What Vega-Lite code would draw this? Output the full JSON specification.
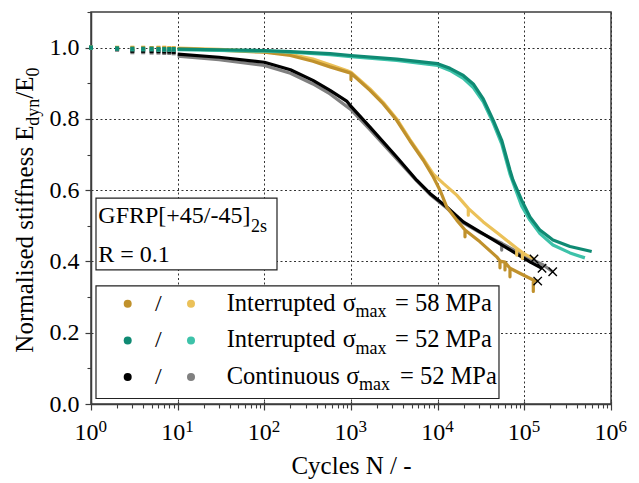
{
  "$schema": "https://vega.github.io/schema/vega-lite/v6.json",
  "width": 520,
  "height": 392,
  "autosize": {"type": "none"},
  "padding": {"left": 91, "top": 12, "right": 28, "bottom": 79},
  "background": "white",
  "config": {
    "font": "Liberation Serif",
    "view": {"stroke": "#3c3c3c", "strokeWidth": 1.5},
    "axis": {
      "labelFont": "Liberation Serif",
      "titleFont": "Liberation Serif",
      "labelColor": "#000",
      "titleColor": "#000",
      "titleFontWeight": "normal",
      "domainColor": "#3c3c3c",
      "tickColor": "#3c3c3c",
      "gridColor": "#333",
      "gridDash": [2, 2.5],
      "gridOpacity": 1,
      "gridWidth": 1
    }
  },
  "datasets": {
    "curves": [
      {"s": "C52b", "N": 10, "E": 0.976}, {"s": "C52b", "N": 30, "E": 0.966}, {"s": "C52b", "N": 100, "E": 0.95}, {"s": "C52b", "N": 200, "E": 0.928},
      {"s": "C52b", "N": 364, "E": 0.898}, {"s": "C52b", "N": 573, "E": 0.87}, {"s": "C52b", "N": 1000, "E": 0.826}, {"s": "C52b", "N": 1656, "E": 0.77},
      {"s": "C52b", "N": 3367, "E": 0.688}, {"s": "C52b", "N": 5730, "E": 0.626}, {"s": "C52b", "N": 8150, "E": 0.588}, {"s": "C52b", "N": 12710, "E": 0.55},
      {"s": "C52b", "N": 19760, "E": 0.508}, {"s": "C52b", "N": 30790, "E": 0.481}, {"s": "C52b", "N": 54800, "E": 0.451}, {"s": "C52b", "N": 54800, "E": 0.432},
      {"s": "C52b", "N": 54800, "E": 0.451}, {"s": "C52b", "N": 97200, "E": 0.418}, {"s": "C52b", "N": 165600, "E": 0.39}, {"s": "C52b", "N": 212500, "E": 0.371},

      {"s": "C52a", "N": 10, "E": 0.982}, {"s": "C52a", "N": 30, "E": 0.973}, {"s": "C52a", "N": 100, "E": 0.959}, {"s": "C52a", "N": 200, "E": 0.938},
      {"s": "C52a", "N": 364, "E": 0.908}, {"s": "C52a", "N": 573, "E": 0.88}, {"s": "C52a", "N": 891, "E": 0.85}, {"s": "C52a", "N": 1000, "E": 0.835},
      {"s": "C52a", "N": 1656, "E": 0.777}, {"s": "C52a", "N": 3367, "E": 0.693}, {"s": "C52a", "N": 5730, "E": 0.628}, {"s": "C52a", "N": 8150, "E": 0.591},
      {"s": "C52a", "N": 12710, "E": 0.553}, {"s": "C52a", "N": 19760, "E": 0.511}, {"s": "C52a", "N": 30790, "E": 0.483}, {"s": "C52a", "N": 47970, "E": 0.455},
      {"s": "C52a", "N": 74600, "E": 0.427}, {"s": "C52a", "N": 116100, "E": 0.399}, {"s": "C52a", "N": 160000, "E": 0.381},

      {"s": "I58b", "N": 10, "E": 0.999}, {"s": "I58b", "N": 30, "E": 0.995}, {"s": "I58b", "N": 100, "E": 0.989}, {"s": "I58b", "N": 200, "E": 0.981},
      {"s": "I58b", "N": 364, "E": 0.968}, {"s": "I58b", "N": 573, "E": 0.952}, {"s": "I58b", "N": 891, "E": 0.936}, {"s": "I58b", "N": 1000, "E": 0.931},
      {"s": "I58b", "N": 1656, "E": 0.884}, {"s": "I58b", "N": 2360, "E": 0.846}, {"s": "I58b", "N": 3367, "E": 0.8}, {"s": "I58b", "N": 4795, "E": 0.742},
      {"s": "I58b", "N": 6830, "E": 0.688}, {"s": "I58b", "N": 8910, "E": 0.645}, {"s": "I58b", "N": 11610, "E": 0.619}, {"s": "I58b", "N": 16590, "E": 0.586},
      {"s": "I58b", "N": 22560, "E": 0.549}, {"s": "I58b", "N": 22560, "E": 0.53}, {"s": "I58b", "N": 22560, "E": 0.549}, {"s": "I58b", "N": 33570, "E": 0.511},
      {"s": "I58b", "N": 52370, "E": 0.474}, {"s": "I58b", "N": 81660, "E": 0.437}, {"s": "I58b", "N": 81660, "E": 0.418}, {"s": "I58b", "N": 81660, "E": 0.437},
      {"s": "I58b", "N": 95000, "E": 0.425}, {"s": "I58b", "N": 95000, "E": 0.408}, {"s": "I58b", "N": 95000, "E": 0.425}, {"s": "I58b", "N": 106400, "E": 0.418},
      {"s": "I58b", "N": 129200, "E": 0.407},

      {"s": "I58a", "N": 10, "E": 0.997}, {"s": "I58a", "N": 30, "E": 0.993}, {"s": "I58a", "N": 100, "E": 0.987}, {"s": "I58a", "N": 200, "E": 0.978},
      {"s": "I58a", "N": 364, "E": 0.962}, {"s": "I58a", "N": 573, "E": 0.946}, {"s": "I58a", "N": 891, "E": 0.932}, {"s": "I58a", "N": 1000, "E": 0.928},
      {"s": "I58a", "N": 1000, "E": 0.91}, {"s": "I58a", "N": 1000, "E": 0.928}, {"s": "I58a", "N": 1656, "E": 0.88}, {"s": "I58a", "N": 2360, "E": 0.842},
      {"s": "I58a", "N": 3367, "E": 0.796}, {"s": "I58a", "N": 4795, "E": 0.738}, {"s": "I58a", "N": 6830, "E": 0.684}, {"s": "I58a", "N": 8910, "E": 0.637},
      {"s": "I58a", "N": 10640, "E": 0.6}, {"s": "I58a", "N": 12710, "E": 0.553}, {"s": "I58a", "N": 16590, "E": 0.516}, {"s": "I58a", "N": 20670, "E": 0.488},
      {"s": "I58a", "N": 20670, "E": 0.469}, {"s": "I58a", "N": 20670, "E": 0.488}, {"s": "I58a", "N": 30790, "E": 0.455}, {"s": "I58a", "N": 47970, "E": 0.413},
      {"s": "I58a", "N": 52370, "E": 0.401}, {"s": "I58a", "N": 52370, "E": 0.382}, {"s": "I58a", "N": 52370, "E": 0.401}, {"s": "I58a", "N": 59800, "E": 0.398},
      {"s": "I58a", "N": 59800, "E": 0.376}, {"s": "I58a", "N": 59800, "E": 0.398}, {"s": "I58a", "N": 68300, "E": 0.381}, {"s": "I58a", "N": 68300, "E": 0.357},
      {"s": "I58a", "N": 68300, "E": 0.381}, {"s": "I58a", "N": 97200, "E": 0.362}, {"s": "I58a", "N": 126900, "E": 0.348}, {"s": "I58a", "N": 126900, "E": 0.316},
      {"s": "I58a", "N": 126900, "E": 0.348}, {"s": "I58a", "N": 142600, "E": 0.345},

      {"s": "I52b", "N": 10, "E": 0.994}, {"s": "I52b", "N": 30, "E": 0.992}, {"s": "I52b", "N": 100, "E": 0.99}, {"s": "I52b", "N": 200, "E": 0.987},
      {"s": "I52b", "N": 573, "E": 0.98}, {"s": "I52b", "N": 1000, "E": 0.975}, {"s": "I52b", "N": 3367, "E": 0.964}, {"s": "I52b", "N": 10000, "E": 0.95},
      {"s": "I52b", "N": 13870, "E": 0.936}, {"s": "I52b", "N": 19760, "E": 0.914}, {"s": "I52b", "N": 25760, "E": 0.888}, {"s": "I52b", "N": 33570, "E": 0.848},
      {"s": "I52b", "N": 43840, "E": 0.788}, {"s": "I52b", "N": 54800, "E": 0.73}, {"s": "I52b", "N": 68300, "E": 0.645}, {"s": "I52b", "N": 93100, "E": 0.556},
      {"s": "I52b", "N": 116100, "E": 0.516}, {"s": "I52b", "N": 151400, "E": 0.478}, {"s": "I52b", "N": 214000, "E": 0.446}, {"s": "I52b", "N": 336500, "E": 0.424},
      {"s": "I52b", "N": 500000, "E": 0.41},

      {"s": "I52a", "N": 10, "E": 0.996}, {"s": "I52a", "N": 30, "E": 0.994}, {"s": "I52a", "N": 100, "E": 0.992}, {"s": "I52a", "N": 200, "E": 0.989},
      {"s": "I52a", "N": 573, "E": 0.983}, {"s": "I52a", "N": 1000, "E": 0.978}, {"s": "I52a", "N": 3367, "E": 0.968}, {"s": "I52a", "N": 10000, "E": 0.955},
      {"s": "I52a", "N": 13870, "E": 0.942}, {"s": "I52a", "N": 19760, "E": 0.922}, {"s": "I52a", "N": 25760, "E": 0.898}, {"s": "I52a", "N": 33570, "E": 0.856},
      {"s": "I52a", "N": 43840, "E": 0.796}, {"s": "I52a", "N": 54800, "E": 0.74}, {"s": "I52a", "N": 68300, "E": 0.656}, {"s": "I52a", "N": 74000, "E": 0.628},
      {"s": "I52a", "N": 93100, "E": 0.572}, {"s": "I52a", "N": 116100, "E": 0.525}, {"s": "I52a", "N": 151400, "E": 0.488}, {"s": "I52a", "N": 214000, "E": 0.46},
      {"s": "I52a", "N": 336500, "E": 0.442}, {"s": "I52a", "N": 598400, "E": 0.428}
    ],
    "early": [
      {"s": "C52b", "N": 1, "E": 1.0}, {"s": "C52b", "N": 2, "E": 0.994}, {"s": "C52b", "N": 3, "E": 0.987}, {"s": "C52b", "N": 4, "E": 0.987}, {"s": "C52b", "N": 5, "E": 0.986},
      {"s": "C52b", "N": 6, "E": 0.986}, {"s": "C52b", "N": 7, "E": 0.985}, {"s": "C52b", "N": 8, "E": 0.985}, {"s": "C52b", "N": 9, "E": 0.984},
      {"s": "C52a", "N": 1, "E": 1.0}, {"s": "C52a", "N": 2, "E": 0.996}, {"s": "C52a", "N": 3, "E": 0.991}, {"s": "C52a", "N": 4, "E": 0.991}, {"s": "C52a", "N": 5, "E": 0.99},
      {"s": "C52a", "N": 6, "E": 0.99}, {"s": "C52a", "N": 7, "E": 0.989}, {"s": "C52a", "N": 8, "E": 0.989}, {"s": "C52a", "N": 9, "E": 0.988},
      {"s": "I58b", "N": 1, "E": 1.0}, {"s": "I58b", "N": 2, "E": 1.0}, {"s": "I58b", "N": 3, "E": 1.0}, {"s": "I58b", "N": 4, "E": 1.0}, {"s": "I58b", "N": 5, "E": 0.999},
      {"s": "I58b", "N": 6, "E": 1.0}, {"s": "I58b", "N": 7, "E": 1.0}, {"s": "I58b", "N": 8, "E": 0.999}, {"s": "I58b", "N": 9, "E": 0.999},
      {"s": "I58a", "N": 1, "E": 1.0}, {"s": "I58a", "N": 2, "E": 0.999}, {"s": "I58a", "N": 3, "E": 0.998}, {"s": "I58a", "N": 4, "E": 0.998}, {"s": "I58a", "N": 5, "E": 0.998},
      {"s": "I58a", "N": 6, "E": 0.998}, {"s": "I58a", "N": 7, "E": 0.998}, {"s": "I58a", "N": 8, "E": 0.997}, {"s": "I58a", "N": 9, "E": 0.997},
      {"s": "I52b", "N": 1, "E": 1.0}, {"s": "I52b", "N": 2, "E": 0.997}, {"s": "I52b", "N": 3, "E": 0.995}, {"s": "I52b", "N": 4, "E": 0.995}, {"s": "I52b", "N": 5, "E": 0.995},
      {"s": "I52b", "N": 6, "E": 0.994}, {"s": "I52b", "N": 7, "E": 0.994}, {"s": "I52b", "N": 8, "E": 0.994}, {"s": "I52b", "N": 9, "E": 0.994},
      {"s": "I52a", "N": 1, "E": 1.0}, {"s": "I52a", "N": 2, "E": 0.998}, {"s": "I52a", "N": 3, "E": 0.997}, {"s": "I52a", "N": 4, "E": 0.997}, {"s": "I52a", "N": 5, "E": 0.997},
      {"s": "I52a", "N": 6, "E": 0.996}, {"s": "I52a", "N": 7, "E": 0.996}, {"s": "I52a", "N": 8, "E": 0.996}, {"s": "I52a", "N": 9, "E": 0.996}
    ],
    "failures": [
      {"s": "I58b", "N": 129200, "E": 0.407},
      {"s": "C52a", "N": 160000, "E": 0.381},
      {"s": "C52b", "N": 212500, "E": 0.371},
      {"s": "I58a", "N": 142600, "E": 0.345}
    ],
    "decades": [
      {"N": 1}, {"N": 10}, {"N": 100}, {"N": 1000}, {"N": 10000}, {"N": 100000}, {"N": 1000000}
    ],
    "note": [{"id": 1}]
  },
  "layer": [
    {
      "data": {"name": "curves"},
      "mark": {"type": "line", "strokeWidth": 3.2, "strokeJoin": "round"},
      "encoding": {
        "x": {
          "field": "N", "type": "quantitative",
          "scale": {"type": "log", "domain": [1, 1000000], "nice": false},
          "axis": {
            "orient": "bottom",
            "values": [1, 10, 100, 1000, 10000, 100000, 1000000],
            "labelExpr": "'10'",
            "labelFontSize": 24,
            "labelOffset": -5,
            "labelPadding": 29.5,
            "labelBaseline": "alphabetic",
            "labelFlush": false,
            "labelOverlap": false,
            "tickSize": 6,
            "tickWidth": 1.2,
            "domainWidth": 1.5,
            "grid": true,
            "title": "Cycles N / -",
            "titleFontSize": 25,
            "titleY": 69.5,
            "titleBaseline": "alphabetic"
          }
        },
        "y": {
          "field": "E", "type": "quantitative",
          "scale": {"domain": [0, 1.1], "nice": false, "zero": false},
          "axis": {
            "orient": "left",
            "values": [0, 0.2, 0.4, 0.6, 0.8, 1.0],
            "format": ".1f",
            "labelFontSize": 24,
            "labelPadding": 6,
            "tickSize": 6,
            "tickWidth": 1.2,
            "domainWidth": 1.5,
            "grid": true,
            "title": null
          }
        },
        "color": {
          "field": "s", "type": "nominal",
          "scale": {
            "domain": ["I58a", "I58b", "I52a", "I52b", "C52a", "C52b"],
            "range": ["#C0912C", "#EBC159", "#0F8A73", "#3DC2A9", "#000000", "#808080"]
          },
          "legend": null
        }
      }
    },
    {
      "data": {"name": "early"},
      "mark": {"type": "square", "size": 16, "opacity": 1},
      "encoding": {
        "x": {"field": "N", "type": "quantitative", "axis": null},
        "y": {"field": "E", "type": "quantitative", "axis": null},
        "color": {"field": "s", "type": "nominal", "legend": null}
      }
    },
    {
      "data": {"name": "failures"},
      "mark": {"type": "point", "shape": "M-1,-1L1,1M-1,1L1,-1", "filled": false, "stroke": "#000", "strokeWidth": 1.4, "size": 70, "opacity": 1},
      "encoding": {
        "x": {"field": "N", "type": "quantitative", "axis": null},
        "y": {"field": "E", "type": "quantitative", "axis": null}
      }
    },
    {
      "data": {"name": "note"},
      "mark": {"type": "rect", "fill": "white", "stroke": "#222", "strokeWidth": 1.2},
      "encoding": {
        "x": {"datum": 1.142, "type": "quantitative", "axis": null},
        "x2": {"datum": 140},
        "y": {"datum": 0.5776, "type": "quantitative", "axis": null},
        "y2": {"datum": 0.3762}
      }
    },
    {
      "data": {"name": "note"},
      "mark": {"type": "text", "text": ["GFRP[+45/-45]", "R = 0.1"], "align": "left", "baseline": "alphabetic", "fontSize": 24, "lineHeight": 39, "font": "Liberation Serif", "color": "#000"},
      "encoding": {
        "x": {"datum": 1.214, "type": "quantitative", "axis": null},
        "y": {"datum": 0.5077, "type": "quantitative", "axis": null}
      }
    },
    {
      "data": {"name": "note"},
      "mark": {"type": "text", "text": "2s", "align": "left", "baseline": "alphabetic", "fontSize": 18, "font": "Liberation Serif", "color": "#000"},
      "encoding": {
        "x": {"datum": 70.2, "type": "quantitative", "axis": null},
        "y": {"datum": 0.4825, "type": "quantitative", "axis": null}
      }
    },
    {
      "data": {"name": "note"},
      "mark": {"type": "rect", "fill": "white", "stroke": "#222", "strokeWidth": 1.2},
      "encoding": {
        "x": {"datum": 1.142, "type": "quantitative", "axis": null},
        "x2": {"datum": 51000},
        "y": {"datum": 0.3315, "type": "quantitative", "axis": null},
        "y2": {"datum": 0.0154}
      }
    },
    {
      "data": {"name": "note"},
      "mark": {"type": "circle", "size": 64, "opacity": 1},
      "encoding": {
        "x": {"datum": 2.651, "type": "quantitative", "axis": null},
        "y": {"datum": 0.2811, "type": "quantitative", "axis": null},
        "color": {"datum": "I58a", "type": "nominal", "legend": null}
      }
    },
    {
      "data": {"name": "note"},
      "mark": {"type": "circle", "size": 64, "opacity": 1},
      "encoding": {
        "x": {"datum": 14.25, "type": "quantitative", "axis": null},
        "y": {"datum": 0.2811, "type": "quantitative", "axis": null},
        "color": {"datum": "I58b", "type": "nominal", "legend": null}
      }
    },
    {
      "data": {"name": "note"},
      "mark": {"type": "circle", "size": 64, "opacity": 1},
      "encoding": {
        "x": {"datum": 2.651, "type": "quantitative", "axis": null},
        "y": {"datum": 0.1785, "type": "quantitative", "axis": null},
        "color": {"datum": "I52a", "type": "nominal", "legend": null}
      }
    },
    {
      "data": {"name": "note"},
      "mark": {"type": "circle", "size": 64, "opacity": 1},
      "encoding": {
        "x": {"datum": 14.25, "type": "quantitative", "axis": null},
        "y": {"datum": 0.1785, "type": "quantitative", "axis": null},
        "color": {"datum": "I52b", "type": "nominal", "legend": null}
      }
    },
    {
      "data": {"name": "note"},
      "mark": {"type": "circle", "size": 64, "opacity": 1},
      "encoding": {
        "x": {"datum": 2.651, "type": "quantitative", "axis": null},
        "y": {"datum": 0.0761, "type": "quantitative", "axis": null},
        "color": {"datum": "C52a", "type": "nominal", "legend": null}
      }
    },
    {
      "data": {"name": "note"},
      "mark": {"type": "circle", "size": 64, "opacity": 1},
      "encoding": {
        "x": {"datum": 14.25, "type": "quantitative", "axis": null},
        "y": {"datum": 0.0761, "type": "quantitative", "axis": null},
        "color": {"datum": "C52b", "type": "nominal", "legend": null}
      }
    },
    {
      "data": {"name": "note"},
      "mark": {"type": "text", "text": ["/", "/", "/"], "align": "center", "baseline": "alphabetic", "fontSize": 24, "lineHeight": 36.5, "font": "Liberation Serif", "color": "#000"},
      "encoding": {
        "x": {"datum": 5.977, "type": "quantitative", "axis": null},
        "y": {"datum": 0.2615, "type": "quantitative", "axis": null}
      }
    },
    {
      "data": {"name": "note"},
      "mark": {"type": "text", "text": ["Interrupted", "Interrupted", "Continuous"], "align": "left", "baseline": "alphabetic", "fontSize": 24.5, "lineHeight": 36.5, "font": "Liberation Serif", "color": "#000"},
      "encoding": {
        "x": {"datum": 36.79, "type": "quantitative", "axis": null},
        "y": {"datum": 0.2615, "type": "quantitative", "axis": null}
      }
    },
    {
      "data": {"name": "note"},
      "mark": {"type": "text", "text": ["σ", "σ"], "align": "right", "baseline": "alphabetic", "fontSize": 24.5, "lineHeight": 36.5, "font": "Liberation Serif", "color": "#000"},
      "encoding": {
        "x": {"datum": 1140, "type": "quantitative", "axis": null},
        "y": {"datum": 0.2615, "type": "quantitative", "axis": null}
      }
    },
    {
      "data": {"name": "note"},
      "mark": {"type": "text", "text": "σ", "align": "right", "baseline": "alphabetic", "fontSize": 24.5, "font": "Liberation Serif", "color": "#000"},
      "encoding": {
        "x": {"datum": 1250, "type": "quantitative", "axis": null},
        "y": {"datum": 0.0573, "type": "quantitative", "axis": null}
      }
    },
    {
      "data": {"name": "note"},
      "mark": {"type": "text", "text": ["max", "max"], "align": "left", "baseline": "alphabetic", "fontSize": 18, "lineHeight": 36.6, "font": "Liberation Serif", "color": "#000"},
      "encoding": {
        "x": {"datum": 1127, "type": "quantitative", "axis": null},
        "y": {"datum": 0.2441, "type": "quantitative", "axis": null}
      }
    },
    {
      "data": {"name": "note"},
      "mark": {"type": "text", "text": "max", "align": "left", "baseline": "alphabetic", "fontSize": 18, "font": "Liberation Serif", "color": "#000"},
      "encoding": {
        "x": {"datum": 1237, "type": "quantitative", "axis": null},
        "y": {"datum": 0.0406, "type": "quantitative", "axis": null}
      }
    },
    {
      "data": {"name": "note"},
      "mark": {"type": "text", "text": ["= 58 MPa", "= 52 MPa"], "align": "left", "baseline": "alphabetic", "fontSize": 24.5, "lineHeight": 36.5, "font": "Liberation Serif", "color": "#000"},
      "encoding": {
        "x": {"datum": 3219, "type": "quantitative", "axis": null},
        "y": {"datum": 0.2615, "type": "quantitative", "axis": null}
      }
    },
    {
      "data": {"name": "note"},
      "mark": {"type": "text", "text": "= 52 MPa", "align": "left", "baseline": "alphabetic", "fontSize": 24.5, "font": "Liberation Serif", "color": "#000"},
      "encoding": {
        "x": {"datum": 3675, "type": "quantitative", "axis": null},
        "y": {"datum": 0.0573, "type": "quantitative", "axis": null}
      }
    },
    {
      "data": {"name": "note"},
      "mark": {"type": "text", "text": "Normalised stiffness E", "angle": 270, "align": "left", "baseline": "alphabetic", "fontSize": 25, "font": "Liberation Serif", "color": "#000"},
      "encoding": {
        "x": {"datum": 0.2142, "type": "quantitative", "axis": null},
        "y": {"datum": 0.1441, "type": "quantitative", "axis": null}
      }
    },
    {
      "data": {"name": "note"},
      "mark": {"type": "text", "text": "dyn", "angle": 270, "align": "left", "baseline": "alphabetic", "fontSize": 18, "font": "Liberation Serif", "color": "#000"},
      "encoding": {
        "x": {"datum": 0.2545, "type": "quantitative", "axis": null},
        "y": {"datum": 0.7811, "type": "quantitative", "axis": null}
      }
    },
    {
      "data": {"name": "note"},
      "mark": {"type": "text", "text": "/E", "angle": 270, "align": "left", "baseline": "alphabetic", "fontSize": 25, "font": "Liberation Serif", "color": "#000"},
      "encoding": {
        "x": {"datum": 0.2142, "type": "quantitative", "axis": null},
        "y": {"datum": 0.8566, "type": "quantitative", "axis": null}
      }
    },
    {
      "data": {"name": "note"},
      "mark": {"type": "text", "text": "0", "angle": 270, "align": "left", "baseline": "alphabetic", "fontSize": 18, "font": "Liberation Serif", "color": "#000"},
      "encoding": {
        "x": {"datum": 0.2545, "type": "quantitative", "axis": null},
        "y": {"datum": 0.9189, "type": "quantitative", "axis": null}
      }
    },
    {
      "data": {"name": "decades"},
      "mark": {"type": "point", "opacity": 0},
      "encoding": {
        "x": {
          "field": "N", "type": "quantitative",
          "scale": {"type": "log", "domain": [1, 1000000], "nice": false},
          "axis": {
            "orient": "bottom",
            "values": [1, 10, 100, 1000, 10000, 100000, 1000000],
            "labelExpr": "round(log(datum.value) / LN10) + ''",
            "labelFontSize": 17,
            "labelAlign": "left",
            "labelOffset": 7,
            "labelPadding": 27.5,
            "labelBaseline": "alphabetic",
            "labelFlush": false,
            "labelOverlap": false,
            "ticks": false,
            "domain": false,
            "grid": false,
            "title": null
          }
        }
      }
    },
    {
      "data": {"name": "decades"},
      "mark": {"type": "point", "opacity": 0},
      "encoding": {
        "x": {
          "field": "N", "type": "quantitative",
          "scale": {"type": "log", "domain": [1, 1000000], "nice": false},
          "axis": {
            "orient": "bottom",
            "values": [2, 3, 4, 5, 6, 7, 8, 9, 20, 30, 40, 50, 60, 70, 80, 90, 200, 300, 400, 500, 600, 700, 800, 900, 2000, 3000, 4000, 5000, 6000, 7000, 8000, 9000, 20000, 30000, 40000, 50000, 60000, 70000, 80000, 90000, 200000, 300000, 400000, 500000, 600000, 700000, 800000, 900000],
            "labels": false,
            "tickSize": 4,
            "tickWidth": 1.1,
            "domain": false,
            "grid": false,
            "title": null
          }
        }
      }
    },
    {
      "data": {"name": "decades"},
      "mark": {"type": "point", "opacity": 0},
      "encoding": {
        "x": {
          "field": "N", "type": "quantitative",
          "scale": {"type": "log", "domain": [1, 1000000], "nice": false},
          "axis": {
            "orient": "bottom",
            "values": [1, 10, 100, 1000, 10000, 100000, 1000000],
            "labels": false,
            "tickSize": -3,
            "tickWidth": 1.2,
            "domain": false,
            "grid": false,
            "title": null
          }
        }
      }
    },
    {
      "data": {"name": "curves"},
      "mark": {"type": "point", "opacity": 0},
      "encoding": {
        "y": {
          "field": "E", "type": "quantitative",
          "scale": {"domain": [0, 1.1], "nice": false, "zero": false},
          "axis": {
            "orient": "left",
            "values": [0.1, 0.3, 0.5, 0.7, 0.9, 1.1],
            "labels": false,
            "tickSize": 4,
            "tickWidth": 1.1,
            "domain": false,
            "grid": false,
            "title": null
          }
        }
      }
    }
  ],
  "resolve": {"axis": {"x": "independent", "y": "independent"}}
}
